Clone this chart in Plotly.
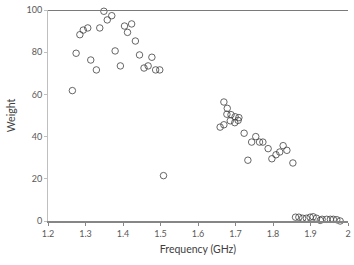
import plotly.graph_objects as go

freq = [1.265, 1.275, 1.285, 1.294, 1.306, 1.314, 1.329, 1.338, 1.349, 1.358, 1.370,
        1.379, 1.393, 1.404, 1.412, 1.423, 1.433, 1.444, 1.456, 1.467, 1.477, 1.487,
        1.498, 1.508,
        1.659, 1.669, 1.669, 1.678, 1.677, 1.686, 1.688, 1.698, 1.699, 1.707, 1.709,
        1.723, 1.733, 1.743, 1.754, 1.764, 1.773, 1.787, 1.797, 1.808, 1.818, 1.827,
        1.837, 1.853,
        1.860, 1.869, 1.879, 1.889, 1.899, 1.907, 1.916, 1.926, 1.931, 1.943, 1.953,
        1.961, 1.970, 1.979]
weight = [61.8, 79.5, 88.3, 90.5, 91.5, 76.3, 71.6, 91.5, 99.4, 95.3, 97.3,
          80.6, 73.5, 92.4, 89.4, 93.4, 85.3, 78.7, 72.5, 73.5, 77.6, 71.6,
          71.6, 21.5,
          44.5, 56.4, 45.6, 53.4, 50.6, 47.5, 50.4, 46.6, 49.4, 47.7, 49.0,
          41.6, 28.8, 37.4, 40.0, 37.4, 37.4, 34.3, 29.5, 31.4, 32.7, 35.7,
          33.5, 27.5,
          1.8, 1.8, 1.3, 1.3, 1.8, 2.0, 1.3, 0.3, 0.8, 0.8, 0.8,
          0.8, 0.6, 0.0]

x_ticks = [1.2, 1.3, 1.4, 1.5, 1.6, 1.7, 1.8, 1.9, 2.0]
x_tick_text = ["1.2", "1.3", "1.4", "1.5", "1.6", "1.7", "1.8", "1.9", "2"]
y_ticks = [0, 20, 40, 60, 80, 100]

font_family = "Lato, Liberation Sans, sans-serif"

fig = go.Figure()
fig.add_trace(go.Scatter(
    x=freq, y=weight, mode="markers",
    marker=dict(symbol="circle-open", size=6.5, color="#404040", line=dict(width=0.8)),
    showlegend=False, cliponaxis=False,
))

fig.add_shape(type="line", xref="x", yref="y", x0=1.2, x1=2.0, y0=100, y1=100,
              line=dict(color="#7a7a7a", width=2))

fig.update_layout(
    width=354, height=265,
    margin=dict(l=48, r=6, t=10, b=44),
    paper_bgcolor="white", plot_bgcolor="white",
    font=dict(family=font_family, size=9, color="#595959"),
    xaxis=dict(
        range=[1.2, 2.0], tickvals=x_ticks, ticktext=x_tick_text,
        showgrid=False, zeroline=False, automargin=False,
        showline=True, linecolor="#868686", linewidth=1.5,
        ticks="outside", ticklen=3, tickcolor="#868686",
        tickfont=dict(size=9, color="#595959"),
        title=dict(text="Frequency (GHz)", font=dict(size=10.5, color="#404040"), standoff=8),
    ),
    yaxis=dict(
        range=[0, 100], tickvals=y_ticks,
        showgrid=False, zeroline=False, automargin=False,
        showline=True, linecolor="#bfbfbf", linewidth=1,
        ticks="outside", ticklen=3, tickcolor="#bfbfbf",
        tickfont=dict(size=9, color="#595959"),
        title=dict(text="Weight", font=dict(size=10.5, color="#404040"), standoff=8),
    ),
)

fig.write_html("out.html", config={"displayModeBar": False},
               post_script="document.body.style.margin='0';document.body.style.overflow='hidden';")
